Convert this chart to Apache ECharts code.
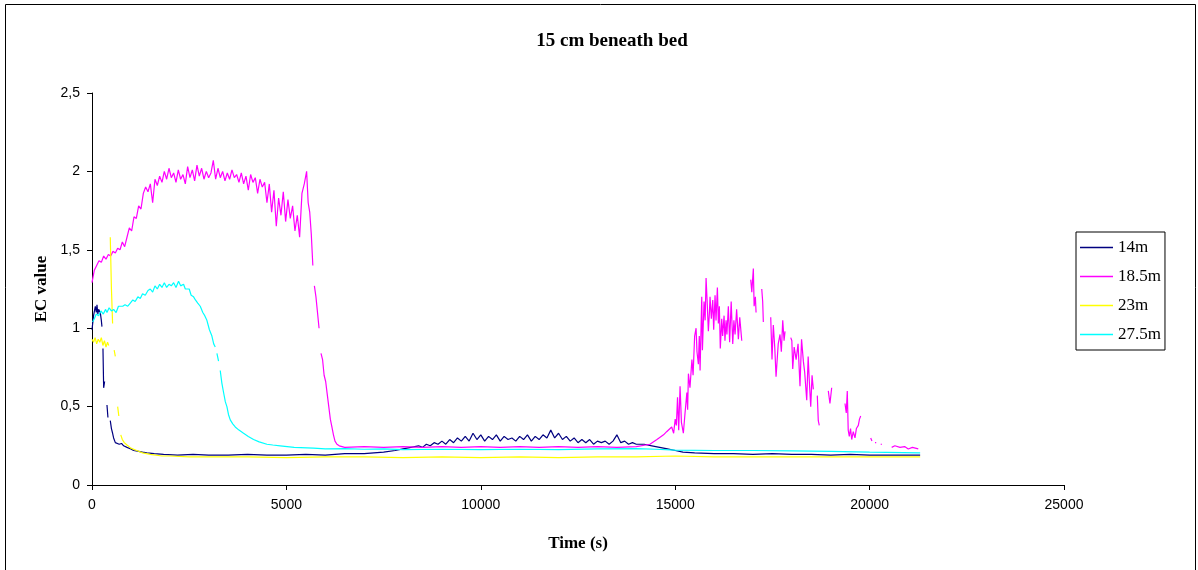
<!DOCTYPE html>
<html>
<head>
<meta charset="utf-8">
<title>15 cm beneath bed</title>
<script src="https://cdn.jsdelivr.net/npm/echarts@6/dist/echarts.min.js"></script>
<style>
  html, body { margin: 0; padding: 0; background: #fff; }
  #chart { width: 1198px; height: 570px; }
</style>
</head>
<body>
<div id="chart"></div>
<script>
// Electrical conductivity logged 15 cm beneath the bed at four stations.
// Each record is [time (s), EC value]; a null value marks a gap in the logger record.
const seriesNames = ['14m', '18.5m', '23m', '27.5m'];
const seriesColors = ['#000080', '#FF00FF', '#FFFF00', '#00FFFF'];
const xTicks = { min: 0, max: 25000, step: 5000 };
const yTicks = { min: 0, max: 2.5, step: 0.5 };

const ec14 = [
  [0,0.99],[40,1.08],[85,1.14],[110,1.10],[128,1.15],[150,1.09],[170,1.12],[213,1.10],[240,1.05],[256,1.01],
  [270,null],[282,0.87],[300,0.62],[325,0.66],[350,null],[385,0.51],[410,0.43],[440,null],[470,0.41],[500,0.36],
  [530,0.33],[556,0.30],[600,0.27],[650,0.28],[700,0.26],[760,0.265],[813,0.25],[900,0.24],[1000,0.23],[1070,0.22],
  [1200,0.215],[1300,0.21],[1410,0.205],[1600,0.20],[1841,0.195],[2200,0.19],[2600,0.195],[3000,0.19],[3500,0.19],
  [4000,0.195],[4500,0.19],[5000,0.19],[5500,0.195],[6000,0.19],[6500,0.20],[7000,0.20],[7500,0.21],[7800,0.22],
  [8000,0.23],[8200,0.24],[8400,0.25],[8500,0.24],[8600,0.26],[8700,0.25],[8800,0.27],[8900,0.26],[9000,0.28],
  [9100,0.26],[9200,0.29],[9300,0.27],[9400,0.30],[9500,0.28],[9600,0.31],[9700,0.28],[9800,0.33],[9900,0.29],
  [10000,0.32],[10100,0.28],[10200,0.31],[10300,0.29],[10400,0.32],[10500,0.28],[10600,0.31],[10700,0.29],
  [10800,0.30],[10900,0.28],[11000,0.31],[11100,0.29],[11200,0.32],[11300,0.28],[11400,0.31],[11500,0.29],
  [11600,0.32],[11700,0.30],[11800,0.35],[11900,0.30],[12000,0.33],[12100,0.29],[12200,0.31],[12300,0.28],
  [12400,0.30],[12500,0.27],[12600,0.29],[12700,0.27],[12800,0.29],[12900,0.26],[13000,0.28],[13100,0.27],
  [13200,0.28],[13300,0.26],[13400,0.28],[13500,0.32],[13600,0.27],[13700,0.28],[13800,0.26],[13900,0.27],
  [14000,0.26],[14200,0.26],[14400,0.25],[14600,0.24],[14800,0.23],[15000,0.22],[15200,0.21],[15500,0.205],
  [16000,0.20],[16500,0.20],[17000,0.195],[17500,0.20],[18000,0.195],[18500,0.195],[19000,0.19],[19500,0.195],
  [20000,0.19],[20500,0.19],[21000,0.19],[21300,0.19]
];

const ec185 = [
  [0,1.29],[60,1.37],[120,1.40],[180,1.43],[240,1.42],[300,1.46],[360,1.44],[420,1.47],[480,1.46],[540,1.49],
  [600,1.48],[660,1.51],[720,1.50],[780,1.55],[840,1.52],[900,1.58],[960,1.64],[1020,1.62],[1080,1.71],[1140,1.70],
  [1200,1.78],[1260,1.76],[1320,1.86],[1380,1.90],[1440,1.87],[1500,1.92],[1560,1.80],[1620,1.95],[1680,1.91],
  [1740,1.97],[1800,1.93],[1860,2.00],[1920,1.95],[1980,2.02],[2040,1.96],[2100,1.99],[2160,1.93],[2220,2.01],
  [2280,1.95],[2340,1.98],[2400,1.92],[2460,2.03],[2520,1.96],[2580,2.01],[2640,1.94],[2700,2.04],[2760,1.97],
  [2820,2.02],[2880,1.95],[2940,2.00],[3000,1.96],[3060,1.99],[3120,2.07],[3180,1.95],[3240,2.02],[3300,1.96],
  [3360,2.00],[3420,1.94],[3480,1.99],[3540,1.95],[3600,2.01],[3660,1.96],[3720,1.98],[3780,1.93],[3840,1.99],
  [3900,1.92],[3960,1.97],[4020,1.88],[4080,1.98],[4140,1.93],[4200,1.96],[4260,1.86],[4320,1.95],[4380,1.90],
  [4440,1.93],[4500,1.80],[4560,1.92],[4620,1.74],[4680,1.88],[4740,1.65],[4800,1.83],[4860,1.72],[4920,1.87],
  [4980,1.68],[5040,1.82],[5100,1.70],[5160,1.78],[5220,1.62],[5280,1.72],[5340,1.58],[5400,1.86],[5460,1.92],
  [5520,2.00],[5560,1.80],[5600,1.74],[5640,1.60],[5680,1.40],[5700,null],[5720,1.27],[5760,1.20],[5800,1.10],
  [5840,1.00],[5860,null],[5890,0.84],[5930,0.80],[5970,0.70],[6010,0.66],[6050,0.58],[6090,0.50],[6130,0.42],
  [6170,0.37],[6210,0.32],[6250,0.28],[6300,0.26],[6360,0.25],[6500,0.24],[7000,0.245],[7500,0.24],[8000,0.245],
  [8500,0.24],[9000,0.245],[9500,0.24],[10000,0.245],[10500,0.24],[11000,0.245],[11500,0.24],[12000,0.245],
  [12500,0.24],[13000,0.245],[13500,0.24],[14000,0.245],[14350,0.26],[14530,0.29],[14700,0.32],[14780,0.34],
  [14910,0.37],[14960,0.33],[15000,0.42],[15030,0.38],[15060,0.56],[15090,0.35],[15125,0.63],[15160,0.40],
  [15210,0.33],[15250,0.45],[15300,0.59],[15320,0.48],[15340,0.71],[15380,0.62],[15430,0.80],[15460,0.70],
  [15500,0.95],[15537,1.00],[15560,0.85],[15596,0.77],[15620,0.95],[15640,0.73],[15683,1.20],[15700,0.86],
  [15742,1.17],[15770,1.05],[15794,1.32],[15820,1.18],[15853,0.98],[15880,1.10],[15896,1.20],[15930,1.06],
  [15966,1.18],[15990,0.99],[16025,1.21],[16050,1.05],[16085,1.26],[16110,1.03],[16136,1.14],[16160,0.87],
  [16197,1.06],[16220,0.95],[16257,1.08],[16280,0.92],[16308,1.05],[16330,0.96],[16367,1.14],[16400,0.91],
  [16440,1.17],[16480,0.90],[16510,1.05],[16540,0.96],[16580,1.12],[16625,0.93],[16660,1.07],[16712,0.92],
  [16800,null],[16943,1.31],[16970,1.23],[17010,1.38],[17030,1.14],[17062,1.20],[17080,1.10],[17150,null],
  [17226,1.25],[17250,1.17],[17267,1.04],[17350,null],[17457,1.07],[17490,0.80],[17524,1.02],[17560,0.88],
  [17594,0.69],[17650,0.90],[17696,0.96],[17730,0.85],[17766,1.05],[17800,0.92],[17825,0.98],[17900,null],
  [17972,0.94],[18000,0.92],[18023,0.74],[18060,0.88],[18110,0.80],[18160,0.90],[18210,0.63],[18250,0.93],
  [18296,0.79],[18330,0.72],[18383,0.54],[18420,0.82],[18450,0.66],[18486,0.50],[18520,0.70],[18553,0.61],
  [18600,null],[18655,0.57],[18680,0.41],[18706,0.38],[18800,null],[18938,0.60],[18980,0.52],[19025,0.62],
  [19200,null],[19367,0.52],[19400,0.46],[19426,0.60],[19450,0.35],[19478,0.31],[19510,0.36],[19540,0.29],
  [19580,0.34],[19624,0.30],[19660,0.36],[19710,0.38],[19740,0.42],[19771,0.44],[19900,null],[20028,0.30],
  [20060,0.28],[20100,null],[20139,0.27],[20170,0.27],[20200,null],[20285,0.26],[20320,0.26],[20400,null],
  [20568,0.24],[20650,0.25],[20781,0.24],[20900,0.245],[20995,0.23],[21100,0.24],[21252,0.23]
];

const ec23 = [
  [0,0.93],[40,0.91],[80,0.94],[120,0.90],[160,0.93],[200,0.91],[240,0.94],[280,0.89],[320,0.92],[360,0.88],
  [400,0.91],[430,0.89],[450,null],[470,1.58],[500,1.25],[530,1.03],[550,null],[570,0.86],[600,0.82],[640,null],
  [660,0.50],[690,0.44],[710,null],[740,0.32],[780,0.29],[830,0.27],[900,0.255],[1000,0.235],[1150,0.22],
  [1300,0.205],[1500,0.195],[1800,0.185],[2000,0.185],[2500,0.18],[3000,0.18],[4000,0.18],[5000,0.175],
  [6000,0.18],[7000,0.18],[8000,0.175],[9000,0.18],[10000,0.175],[11000,0.18],[12000,0.175],[13000,0.18],
  [14000,0.18],[15000,0.185],[16000,0.18],[17000,0.18],[18000,0.18],[19000,0.18],[20000,0.18],[21300,0.18]
];

const ec275 = [
  [15,1.04],[60,1.06],[110,1.09],[170,1.08],[230,1.11],[290,1.09],[350,1.12],[385,1.10],[440,1.13],[500,1.11],
  [556,1.12],[620,1.10],[680,1.14],[727,1.13],[790,1.14],[850,1.15],[920,1.14],[985,1.16],[1050,1.18],[1110,1.17],
  [1180,1.20],[1242,1.19],[1300,1.22],[1370,1.21],[1440,1.24],[1498,1.25],[1560,1.23],[1620,1.27],[1680,1.25],
  [1740,1.28],[1800,1.26],[1860,1.29],[1920,1.26],[1980,1.28],[2040,1.27],[2100,1.29],[2160,1.26],[2226,1.30],
  [2280,1.27],[2355,1.28],[2400,1.25],[2441,1.24],[2500,1.25],[2550,1.21],[2613,1.20],[2660,1.18],[2720,1.16],
  [2784,1.14],[2850,1.10],[2900,1.08],[2955,1.05],[3020,0.99],[3084,0.95],[3130,0.90],[3170,0.88],[3190,null],
  [3213,0.84],[3255,0.79],[3275,null],[3298,0.73],[3340,0.65],[3384,0.59],[3430,0.53],[3470,0.50],[3510,0.45],
  [3556,0.415],[3620,0.39],[3684,0.37],[3780,0.35],[3898,0.33],[4020,0.31],[4155,0.29],[4300,0.275],[4498,0.26],
  [4650,0.255],[4841,0.25],[5200,0.24],[5698,0.235],[6000,0.23],[6500,0.232],[7000,0.228],[7500,0.23],
  [8000,0.226],[9000,0.228],[10000,0.225],[11000,0.228],[12000,0.225],[13000,0.23],[14000,0.232],[14500,0.228],
  [15000,0.222],[16000,0.22],[17000,0.22],[18000,0.218],[19000,0.215],[20000,0.21],[21300,0.205]
];

const seriesData = [ec14, ec185, ec23, ec275];

const serif = "'Liberation Serif', 'Times New Roman', serif";
const sans = "'Liberation Sans', Arial, sans-serif";

const chart = echarts.init(document.getElementById('chart'), null, { renderer: 'canvas' });

chart.setOption({
  animation: false,
  backgroundColor: '#ffffff',
  title: {
    text: '15 cm beneath bed',
    left: 607,
    top: 27,
    textAlign: 'center',
    textStyle: { fontFamily: serif, fontWeight: 'bold', fontSize: 19, color: '#000' }
  },
  graphic: [
    {
      type: 'rect',
      silent: true,
      shape: { x: 5.5, y: 4.5, width: 1190, height: 620 },
      style: { fill: null, stroke: '#000', lineWidth: 1 }
    }
  ],
  legend: {
    orient: 'vertical',
    left: 1076,
    top: 232,
    data: seriesNames,
    icon: 'rect',
    backgroundColor: '#fff',
    borderColor: '#000',
    borderWidth: 1,
    padding: [7, 4, 7, 4],
    itemGap: 12,
    itemWidth: 33,
    itemHeight: 1.5,
    textStyle: { fontFamily: serif, fontSize: 17, color: '#000', lineHeight: 17 }
  },
  grid: { left: 92, right: 134, top: 93, bottom: 85, containLabel: false },
  xAxis: {
    type: 'value',
    min: xTicks.min,
    max: xTicks.max,
    interval: xTicks.step,
    name: 'Time (s)',
    nameLocation: 'middle',
    nameGap: 50,
    nameTextStyle: { fontFamily: serif, fontWeight: 'bold', fontSize: 17, color: '#000' },
    axisLine: { lineStyle: { color: '#000', width: 1 } },
    axisTick: { show: true, length: 5, lineStyle: { color: '#000' } },
    splitLine: { show: false },
    axisLabel: {
      fontFamily: sans, fontSize: 14, color: '#000', margin: 13,
      formatter: v => String(v)
    }
  },
  yAxis: {
    type: 'value',
    min: yTicks.min,
    max: yTicks.max,
    interval: yTicks.step,
    name: 'EC value',
    nameLocation: 'middle',
    nameRotate: 90,
    nameGap: 42,
    nameTextStyle: { fontFamily: serif, fontWeight: 'bold', fontSize: 17, color: '#000' },
    axisLine: { show: true, lineStyle: { color: '#000', width: 1 } },
    axisTick: { show: true, length: 5, lineStyle: { color: '#000' } },
    splitLine: { show: false },
    axisLabel: {
      fontFamily: sans, fontSize: 14, color: '#000', margin: 12,
      formatter: v => String(v).replace('.', ',')
    }
  },
  series: seriesNames.map((name, i) => ({
    name,
    type: 'line',
    data: seriesData[i],
    symbol: 'none',
    connectNulls: false,
    color: seriesColors[i],
    lineStyle: { color: seriesColors[i], width: 1.2 },
    z: 2 + i
  }))
});
</script>
</body>
</html>
